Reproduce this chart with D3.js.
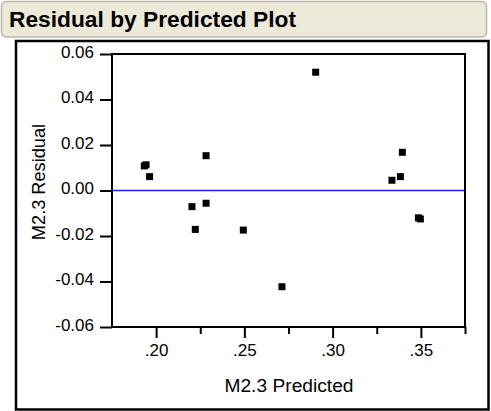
<!DOCTYPE html>
<html>
<head>
<meta charset="utf-8">
<script src="https://cdn.jsdelivr.net/npm/d3@7"></script>
<style>
  html, body { margin: 0; padding: 0; background: #fff; }
  svg { display: block; }
  text { font-family: "Liberation Sans", Arial, sans-serif; fill: #000; }
</style>
</head>
<body>
<svg id="chart" width="491" height="411"></svg>
<script>
// ---- data ----
const predicted = [0.1933, 0.1943, 0.1963, 0.2283, 0.2203, 0.2283, 0.2222, 0.2494, 0.2713, 0.2904, 0.3336, 0.3384, 0.3395, 0.3486, 0.3497];
const residual  = [0.0108, 0.0113, 0.0061, 0.0153, -0.0071, -0.0056, -0.0171, -0.0174, -0.0423, 0.0520, 0.0045, 0.0061, 0.0168, -0.0120, -0.0125];
const yTicks = [-0.06, -0.04, -0.02, 0.00, 0.02, 0.04, 0.06];
const xMajorTicks = [0.20, 0.25, 0.30, 0.35];
const xMinorTicks = [0.225, 0.275, 0.325, 0.375];
const titleText = "Residual by Predicted Plot";
const xLabel = "M2.3 Predicted";
const yLabel = "M2.3 Residual";

// ---- layout ----
const svg = d3.select("#chart");
const L = 112, R = 465, T = 54, B = 327;

const x = d3.scaleLinear().domain([0.175, 0.375]).range([L, R]);
const y = d3.scaleLinear().domain([-0.06, 0.06]).range([B, T]);

// title bar
svg.append("rect")
  .attr("x", 1.5).attr("y", 1.5).attr("width", 485).attr("height", 35.5)
  .attr("rx", 5).attr("ry", 5)
  .attr("fill", "#ECE9D8").attr("stroke", "#b9b6a8").attr("stroke-width", 1.5);
svg.append("text")
  .attr("x", 9).attr("y", 26.5)
  .attr("font-size", 21.5).attr("font-weight", "bold")
  .attr("textLength", 287).attr("lengthAdjust", "spacingAndGlyphs")
  .text(titleText);

// outer frame
svg.append("rect")
  .attr("x", 16).attr("y", 41).attr("width", 472.5).attr("height", 368.5)
  .attr("fill", "none").attr("stroke", "#000").attr("stroke-width", 2.5);

// zero reference line
svg.append("line")
  .attr("x1", L).attr("x2", R).attr("y1", y(0)).attr("y2", y(0))
  .attr("stroke", "#1a1aff").attr("stroke-width", 1.6);

// points
svg.append("g").selectAll("rect").data(predicted.map((p, i) => [p, residual[i]]))
  .join("rect")
  .attr("x", d => x(d[0]) - 3.5).attr("y", d => y(d[1]) - 3.5)
  .attr("width", 7).attr("height", 7)
  .attr("fill", "#000");

// plot frame
svg.append("rect")
  .attr("x", L).attr("y", T).attr("width", R - L).attr("height", B - T)
  .attr("fill", "none").attr("stroke", "#000").attr("stroke-width", 2);

// y axis
const fmtY = v => d3.format(".2f")(v).replace("\u2212", "-");
const yAxis = svg.append("g").attr("transform", `translate(${L},0)`)
  .call(d3.axisLeft(y).tickValues(yTicks).tickFormat(fmtY)
    .tickSize(12).tickSizeOuter(0).tickPadding(6));
yAxis.select(".domain").remove();
yAxis.selectAll(".tick line").attr("stroke", "#000").attr("stroke-width", 2);
yAxis.selectAll(".tick text").attr("font-size", 17).attr("font-family", "Liberation Sans, Arial, sans-serif").attr("dy", "0.2em");

// x axis major
const fmtX = v => d3.format(".2f")(v).replace(/^0/, "");
const xAxis = svg.append("g").attr("transform", `translate(0,${B})`)
  .call(d3.axisBottom(x).tickValues(xMajorTicks).tickFormat(fmtX)
    .tickSize(11).tickSizeOuter(0).tickPadding(6));
xAxis.select(".domain").remove();
xAxis.selectAll(".tick line").attr("stroke", "#000").attr("stroke-width", 2);
xAxis.selectAll(".tick text").attr("font-size", 17).attr("font-family", "Liberation Sans, Arial, sans-serif");

// x axis minor
const xMinor = svg.append("g").attr("transform", `translate(0,${B})`)
  .call(d3.axisBottom(x).tickValues(xMinorTicks).tickFormat("").tickSize(7).tickSizeOuter(0));
xMinor.select(".domain").remove();
xMinor.selectAll(".tick line").attr("stroke", "#000").attr("stroke-width", 2);

// axis labels
svg.append("text")
  .attr("x", (L + R) / 2 + 0.5).attr("y", 391.5)
  .attr("text-anchor", "middle").attr("font-size", 19.2)
  .text(xLabel);
svg.append("text")
  .attr("transform", `translate(45,${182}) rotate(-90)`)
  .attr("text-anchor", "middle").attr("font-size", 18.2)
  .text(yLabel);
</script>
</body>
</html>
